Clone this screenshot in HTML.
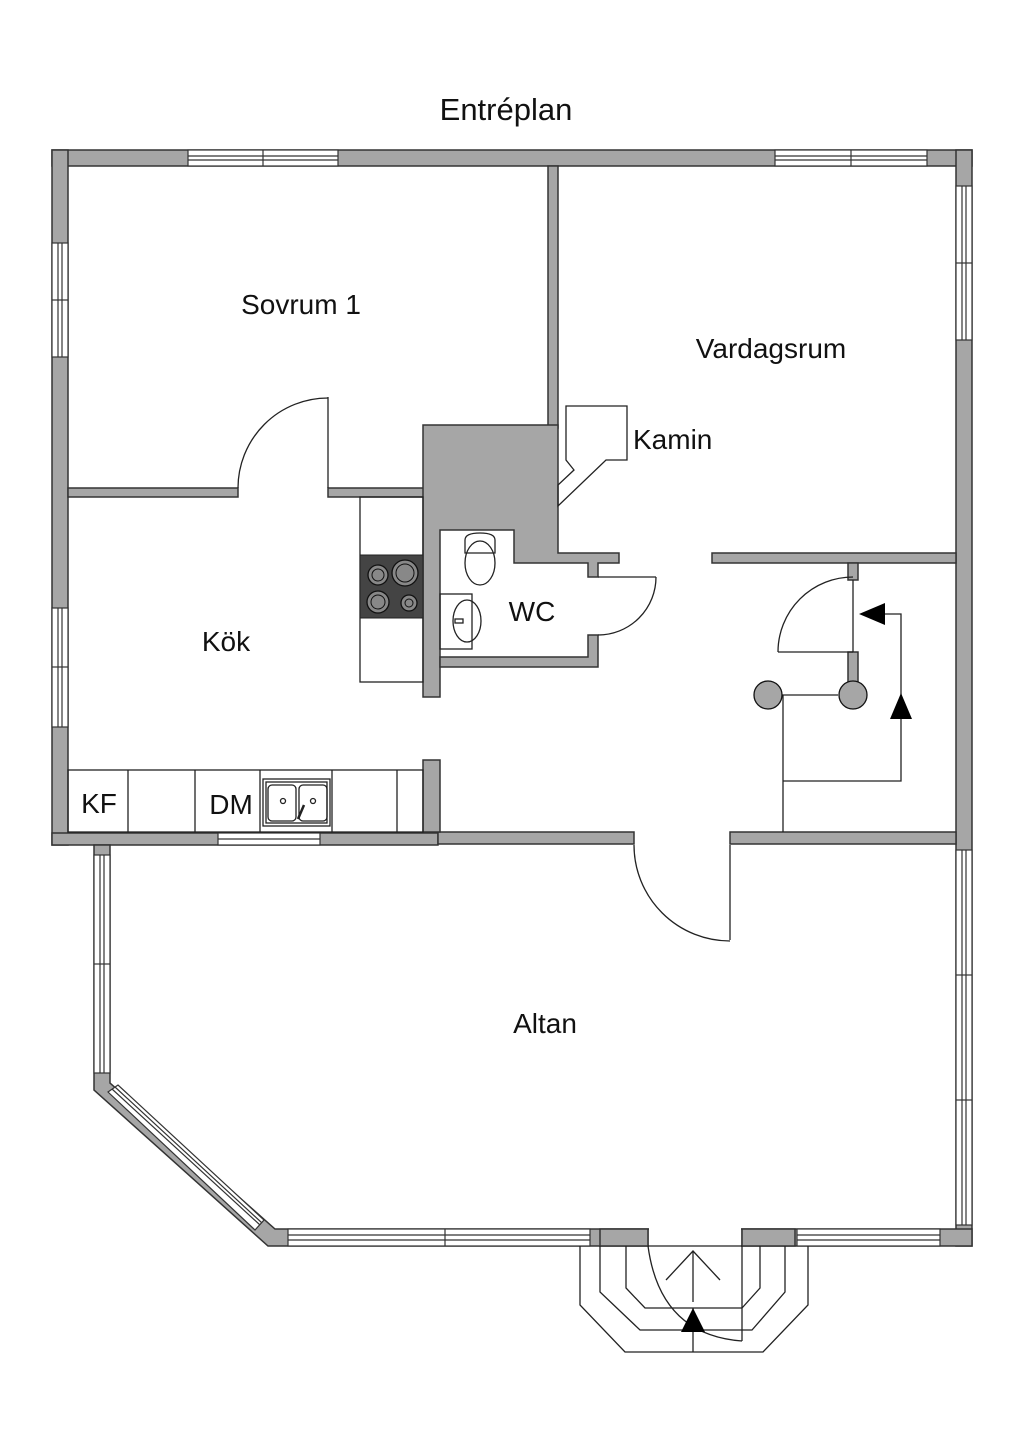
<!DOCTYPE html>
<html><head><meta charset="utf-8"><style>
html,body{margin:0;padding:0;background:#fff;width:1024px;height:1448px;overflow:hidden}
svg{display:block}
text{font-family:"Liberation Sans",sans-serif;fill:#111}
</style></head><body>
<svg width="1024" height="1448" viewBox="0 0 1024 1448" xmlns="http://www.w3.org/2000/svg">
<text x="506" y="120" font-size="31" text-anchor="middle">Entréplan</text>
<g fill="#a6a6a6" stroke="#333" stroke-width="1.5">
<rect x="52" y="150" width="920" height="16"/>
<rect x="52" y="150" width="16" height="695"/>
<rect x="956" y="150" width="16" height="1096"/>
<rect x="52" y="833" width="386" height="12"/>
<rect x="438" y="832" width="196" height="12"/>
<rect x="730" y="832" width="226" height="12"/>
<polygon points="94,845 110,845 110,1083 275,1229 972,1229 972,1246 268,1246 94,1090"/>
<rect x="548" y="166" width="10" height="262"/>
<rect x="68" y="488" width="170" height="9"/>
<rect x="328" y="488" width="97" height="9"/>
<polygon points="423,425 558,425 558,553 619,553 619,563 598,563 598,577 588,577 588,563 514,563 514,530 440,530 440,697 423,697"/>
<polygon points="588,635 598,635 598,667 440,667 440,657 588,657"/>
<rect x="423" y="760" width="17" height="72"/>
<rect x="712" y="553" width="244" height="10"/>
<rect x="848" y="563" width="10" height="17"/>
<rect x="848" y="652" width="10" height="38"/>
</g>
<rect x="649" y="1228" width="92" height="19" fill="#fff"/>
<g fill="#a6a6a6" stroke="#333" stroke-width="1.5">
<rect x="600" y="1229" width="48" height="17"/>
<rect x="742" y="1229" width="53" height="17"/>
</g>
<g fill="#fff" stroke="#333" stroke-width="1.2">
<rect x="188" y="150" width="150" height="16"/><line x1="188" y1="156" x2="338" y2="156"/><line x1="188" y1="160" x2="338" y2="160"/><line x1="263" y1="150" x2="263" y2="166"/>
<rect x="775" y="150" width="152" height="16"/><line x1="775" y1="156" x2="927" y2="156"/><line x1="775" y1="160" x2="927" y2="160"/><line x1="851" y1="150" x2="851" y2="166"/>
<rect x="52" y="243" width="16" height="114"/><line x1="58" y1="243" x2="58" y2="357"/><line x1="62" y1="243" x2="62" y2="357"/><line x1="52" y1="300" x2="68" y2="300"/>
<rect x="52" y="608" width="16" height="119"/><line x1="58" y1="608" x2="58" y2="727"/><line x1="62" y1="608" x2="62" y2="727"/><line x1="52" y1="667" x2="68" y2="667"/>
<rect x="956" y="186" width="16" height="154"/><line x1="962" y1="186" x2="962" y2="340"/><line x1="966" y1="186" x2="966" y2="340"/><line x1="956" y1="263" x2="972" y2="263"/>
<rect x="218" y="833" width="102" height="12"/><line x1="218" y1="839" x2="320" y2="839"/>
<rect x="94" y="855" width="16" height="218"/><line x1="100" y1="855" x2="100" y2="1073"/><line x1="104" y1="855" x2="104" y2="1073"/><line x1="94" y1="964" x2="110" y2="964"/>
<rect x="956" y="850" width="16" height="375"/><line x1="962" y1="850" x2="962" y2="1225"/><line x1="966" y1="850" x2="966" y2="1225"/><line x1="956" y1="975" x2="972" y2="975"/><line x1="956" y1="1100" x2="972" y2="1100"/>
<rect x="288" y="1229" width="302" height="17"/><line x1="288" y1="1235" x2="590" y2="1235"/><line x1="288" y1="1240" x2="590" y2="1240"/><line x1="445" y1="1229" x2="445" y2="1246"/>
<rect x="797" y="1229" width="143" height="17"/><line x1="797" y1="1235" x2="940" y2="1235"/><line x1="797" y1="1240" x2="940" y2="1240"/>
<polygon points="108,1092 118,1085 264,1220 255,1230"/>
<line x1="112" y1="1089" x2="260" y2="1225"/><line x1="115" y1="1087" x2="262" y2="1223"/>
</g>
<g fill="none" stroke="#222" stroke-width="1.3">
<line x1="328" y1="397" x2="328" y2="488"/><path d="M328,398 A90,90 0 0 0 238,488"/>
<line x1="730" y1="845" x2="730" y2="940"/><path d="M634,845 A96,96 0 0 0 730,941"/>
<line x1="598" y1="577" x2="656" y2="577"/><path d="M656,577 A58,58 0 0 1 598,635"/>
<line x1="853" y1="652" x2="778" y2="652"/><line x1="853" y1="580" x2="853" y2="652"/><path d="M778,652 A75,75 0 0 1 853,577"/>
<rect x="360" y="497" width="63" height="185"/>
<rect x="68" y="770" width="355" height="62"/>
<line x1="128" y1="770" x2="128" y2="832"/><line x1="195" y1="770" x2="195" y2="832"/><line x1="260" y1="770" x2="260" y2="832"/><line x1="332" y1="770" x2="332" y2="832"/><line x1="397" y1="770" x2="397" y2="832"/>
<rect x="263" y="779" width="67" height="47"/><rect x="266" y="782" width="61" height="41"/>
<rect x="268" y="785" width="28" height="36" rx="4"/><rect x="299" y="785" width="28" height="36" rx="4"/>
<circle cx="283" cy="801" r="2.5"/><circle cx="313" cy="801" r="2.5"/>
<line x1="298" y1="819" x2="304" y2="805" stroke-width="2.5"/>
<rect x="440" y="594" width="32" height="55"/>
<ellipse cx="467" cy="621" rx="14" ry="21"/>
<rect x="455" y="619" width="8" height="4"/>
<path d="M465,540 Q465,533 480,533 Q495,533 495,540 L495,553 L465,553 Z"/>
<ellipse cx="480" cy="563" rx="15" ry="22"/>
<polygon points="566,406 627,406 627,460 606,460 558,506 558,485 574,470 566,460"/>
<line x1="782" y1="695" x2="838" y2="695"/>
<polyline points="783,695 783,832"/>
<polyline points="783,781 901,781 901,614 870,614"/>
<polyline points="580,1246 580,1305 625,1352 763,1352 808,1305 808,1246"/>
<polyline points="600,1246 600,1292 640,1330 752,1330 785,1292 785,1246"/>
<polyline points="626,1246 626,1288 645,1308 742,1308 760,1288 760,1246"/>
<line x1="648" y1="1246" x2="742" y2="1246"/>
<line x1="693" y1="1308" x2="693" y2="1352"/>
<line x1="742" y1="1246" x2="742" y2="1341"/>
<path d="M648,1246 Q660,1335 742,1341"/>
<line x1="693" y1="1302" x2="693" y2="1252"/>
<polyline points="666,1280 693,1251 720,1280"/>
</g>
<rect x="360" y="555" width="63" height="63" fill="#444" stroke="#222"/>
<g fill="#888" stroke="#111" stroke-width="1.3">
<circle cx="378" cy="575" r="10"/><circle cx="405" cy="573" r="13"/><circle cx="378" cy="602" r="11"/><circle cx="409" cy="603" r="8"/>
<circle cx="768" cy="695" r="14" fill="#a6a6a6"/><circle cx="853" cy="695" r="14" fill="#a6a6a6"/>
</g>
<g fill="none" stroke="#111" stroke-width="1"><circle cx="378" cy="575" r="6"/><circle cx="405" cy="573" r="9"/><circle cx="378" cy="602" r="7"/><circle cx="409" cy="603" r="4"/></g>
<g fill="#000">
<polygon points="859,614 885,603 885,625"/>
<polygon points="901,693 890,719 912,719"/>
<polygon points="693,1308 681,1332 705,1332"/>
</g>
<g font-size="28">
<text x="301" y="314" text-anchor="middle">Sovrum 1</text>
<text x="771" y="358" text-anchor="middle">Vardagsrum</text>
<text x="633" y="449">Kamin</text>
<text x="532" y="621" text-anchor="middle">WC</text>
<text x="226" y="651" text-anchor="middle">Kök</text>
<text x="99" y="813" text-anchor="middle">KF</text>
<text x="231" y="814" text-anchor="middle">DM</text>
<text x="545" y="1033" text-anchor="middle">Altan</text>
</g>
</svg>
</body></html>
